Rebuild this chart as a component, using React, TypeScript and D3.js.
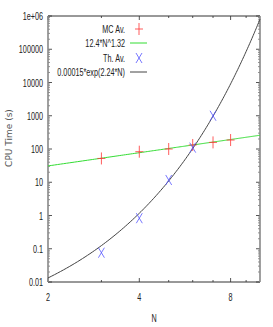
import { useEffect, useRef } from 'react';
import * as d3 from 'd3';

const mcN = [3, 4, 5, 6, 7, 8];
const mcTime = [52, 83, 100, 132, 158, 186];
const thN = [3, 4, 5, 6, 7];
const thTime = [0.076, 0.83, 11.7, 110, 1000];
const xTicks = [2, 4, 8];
const xMinor = [3, 5, 6, 7, 9];
const yTicks = [0.01, 0.1, 1, 10, 100, 1000, 10000, 100000, 1e6];
const yTickLabels = ['0.01', '0.1', '1', '10', '100', '1000', '10000', '100000', '1e+06'];
const legendLabels = ['MC Av.', '12.4*N^1.32', 'Th. Av.', '0.00015*exp(2.24*N)'];

const powFit = (n: number) => 12.4 * Math.pow(n, 1.32);
const expFit = (n: number) => 0.00015 * Math.exp(2.24 * n);

export default function App() {
  const svgRef = useRef<SVGSVGElement>(null);

  useEffect(() => {
    if (!svgRef.current) return;
    const width = 273;
    const height = 327;
    const svg = d3.select(svgRef.current);
    svg.selectAll('*').remove();
    svg.attr('width', width).attr('height', height);

    const left = 48, right = 260, top = 16, bottom = 282;
    const x = d3.scaleLog().base(2).domain([2, 10]).range([left, right]);
    const y = d3.scaleLog().domain([0.01, 1e6]).range([bottom, top]);

    const g = svg.append('g');

    // gnuplot-style narrow labels
    const narrow = (tx: number, ty: number, anchor: string, txt: string) => {
      g.append('g').attr('transform', `translate(${tx},${ty}) scale(0.63,1)`)
        .append('text').attr('dy', '0.35em').attr('text-anchor', anchor)
        .attr('font-family', '"Liberation Sans", Arial, sans-serif').attr('font-size', 11.5)
        .attr('fill', '#222').text(txt);
    };

    // Minor y ticks
    const minorY: number[] = [];
    for (let e = -2; e < 6; e++) {
      for (let k = 2; k <= 9; k++) minorY.push(k * Math.pow(10, e));
    }
    minorY.forEach(v => {
      g.append('line').attr('x1', left).attr('x2', left + 2).attr('y1', y(v)).attr('y2', y(v))
        .attr('stroke', '#777').attr('stroke-width', 0.8);
      g.append('line').attr('x1', right).attr('x2', right - 2).attr('y1', y(v)).attr('y2', y(v))
        .attr('stroke', '#777').attr('stroke-width', 0.8);
    });
    yTicks.forEach((v, i) => {
      g.append('line').attr('x1', left).attr('x2', left + 4).attr('y1', y(v)).attr('y2', y(v))
        .attr('stroke', '#555');
      g.append('line').attr('x1', right).attr('x2', right - 4).attr('y1', y(v)).attr('y2', y(v))
        .attr('stroke', '#555');
      narrow(left - 5, y(v), 'end', yTickLabels[i]);
    });

    xMinor.forEach(v => {
      g.append('line').attr('x1', x(v)).attr('x2', x(v)).attr('y1', bottom).attr('y2', bottom - 2)
        .attr('stroke', '#555');
      g.append('line').attr('x1', x(v)).attr('x2', x(v)).attr('y1', top).attr('y2', top + 2)
        .attr('stroke', '#555');
    });
    xTicks.forEach(v => {
      g.append('line').attr('x1', x(v)).attr('x2', x(v)).attr('y1', bottom).attr('y2', bottom - 4)
        .attr('stroke', '#555');
      g.append('line').attr('x1', x(v)).attr('x2', x(v)).attr('y1', top).attr('y2', top + 4)
        .attr('stroke', '#555');
      narrow(x(v), bottom + 15, 'middle', String(v));
    });

    // Frame
    g.append('line').attr('x1', left).attr('x2', right).attr('y1', top).attr('y2', top)
      .attr('stroke', '#333');
    g.append('line').attr('x1', left).attr('x2', right).attr('y1', bottom).attr('y2', bottom)
      .attr('stroke', '#333');
    g.append('line').attr('x1', left).attr('x2', left).attr('y1', top).attr('y2', bottom)
      .attr('stroke', '#888').attr('stroke-width', 1.6);
    g.append('line').attr('x1', right).attr('x2', right).attr('y1', top).attr('y2', bottom)
      .attr('stroke', '#888').attr('stroke-width', 1.6);

    // Fit curves
    const ns = d3.range(2, 10.001, 0.05);
    const line = d3.line<number>().x(n => x(n));
    g.append('path')
      .attr('d', line.y(n => y(powFit(n)))(ns))
      .attr('fill', 'none').attr('stroke', '#33dd33').attr('stroke-width', 1);
    g.append('path')
      .attr('d', line.y(n => y(expFit(n)))(ns.filter(n => expFit(n) <= 1e6)))
      .attr('fill', 'none').attr('stroke', '#444').attr('stroke-width', 1);

    // Markers
    const plus = (cx: number, cy: number) => {
      g.append('path').attr('d', `M${cx - 4},${cy}H${cx + 4}M${cx},${cy - 6}V${cy + 6}`)
        .attr('stroke', '#ff3333').attr('stroke-width', 0.8).attr('fill', 'none');
    };
    const cross = (cx: number, cy: number) => {
      g.append('path').attr('d', `M${cx - 3},${cy - 5}L${cx + 3},${cy + 5}M${cx + 3},${cy - 5}L${cx - 3},${cy + 5}`)
        .attr('stroke', '#5555ff').attr('stroke-width', 0.8).attr('fill', 'none');
    };
    mcN.forEach((n, i) => plus(x(n), y(mcTime[i])));
    thN.forEach((n, i) => cross(x(n), y(thTime[i])));

    // Legend
    const legY = [29, 43, 58, 72];
    legendLabels.forEach((lab, i) => narrow(125, legY[i], 'end', lab));
    plus(139, legY[0]);
    g.append('line').attr('x1', 130).attr('x2', 147).attr('y1', legY[1]).attr('y2', legY[1])
      .attr('stroke', '#33dd33');
    cross(139, legY[2]);
    g.append('line').attr('x1', 130).attr('x2', 147).attr('y1', legY[3]).attr('y2', legY[3])
      .attr('stroke', '#444');

    // Axis labels
    svg.append('text').attr('transform', `translate(12,138) rotate(-90)`)
      .attr('text-anchor', 'middle').attr('font-family', 'DejaVu Sans, sans-serif')
      .attr('font-size', 9).attr('fill', '#555').text('CPU Time (s)');
    narrow(154, 318, 'middle', 'N');
  }, []);

  return (
    <div style={{ position: 'absolute', left: 0, top: 0 }}>
      <svg ref={svgRef}></svg>
    </div>
  );
}
